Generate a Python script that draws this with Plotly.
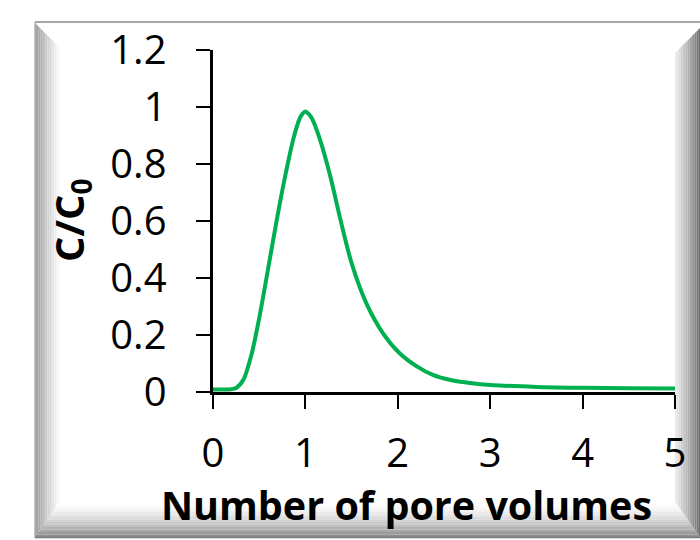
import plotly.graph_objects as go

# ---- data ----
pore_volumes = [0.0, 0.1, 0.2, 0.25, 0.33, 0.42, 0.51, 0.60, 0.69, 0.78, 0.87, 0.94, 0.97, 1.0,
                1.03, 1.07, 1.16, 1.27, 1.38, 1.50, 1.66, 1.84, 2.02, 2.21, 2.38, 2.57, 2.8,
                3.0, 3.5, 4.0, 4.5, 5.0]
c_over_c0 = [0.01, 0.01, 0.011, 0.015, 0.045, 0.137, 0.277, 0.44, 0.605, 0.757, 0.89, 0.962, 0.978, 0.985,
             0.978, 0.962, 0.885, 0.757, 0.605, 0.453, 0.312, 0.207, 0.137, 0.09, 0.061, 0.043, 0.032,
             0.026, 0.019, 0.016, 0.014, 0.013]
x_ticks = [0, 1, 2, 3, 4, 5]
y_ticks = [0, 0.2, 0.4, 0.6, 0.8, 1.0, 1.2]
y_tick_text = ["0", "0.2", "0.4", "0.6", "0.8", "1", "1.2"]

W, H = 700, 540
FONT = "Open Sans"


def px(x):
    return x / W


def py(y):
    return 1 - y / H


fig = go.Figure()
fig.add_trace(go.Scatter(x=pore_volumes, y=c_over_c0, mode="lines",
                         line=dict(color="#00B050", width=4, shape="spline", smoothing=0.8),
                         showlegend=False, hoverinfo="skip"))

shapes = []


def poly(pts, color):
    d = "M " + " L ".join(f"{px(x)},{py(y)}" for x, y in pts) + " Z"
    return dict(type="path", path=d, xref="paper", yref="paper",
                fillcolor=color, line=dict(width=0), layer="below")


def gray(v):
    v = int(round(max(0, min(255, v))))
    return f"rgb({v},{v},{v})"


N = 14
# left bevel
for i in range(N):
    xa = 35 + 25 * i / N
    xb = 35 + 25 * (i + 1) / N
    t = (i + 0.5) / N
    c = gray(140 + 115 * t ** 0.8)
    shapes.append(poly([(xa, 23 + (xa - 35)), (xb, 23 + (xb - 35)),
                        (xb, 537 - (xb - 35) * 1.4), (xa, 537 - (xa - 35) * 1.4)], c))
# right bevel
for i in range(N):
    xa = 675 + 25 * i / N
    xb = 675 + 25 * (i + 1) / N
    t = (i + 0.5) / N
    c = gray(236 - 130 * t ** 1.2)
    shapes.append(poly([(xa, 53 - (xa - 675)), (xb, 53 - (xb - 675)),
                        (xb, 502 + (xb - 675) * 1.4), (xa, 502 + (xa - 675) * 1.4)], c))
# bottom bevel
for i in range(N):
    ya = 502 + 35 * i / N
    yb = 502 + 35 * (i + 1) / N
    t = (i + 0.5) / N
    c = gray(255 - 120 * t ** 1.6)
    shapes.append(poly([(35 + (537 - ya) / 1.4, ya), (675 + (ya - 502) / 1.4, ya),
                        (675 + (yb - 502) / 1.4, yb), (35 + (537 - yb) / 1.4, yb)], c))
# outer edges
shapes.append(dict(type="line", xref="paper", yref="paper", x0=px(35), x1=px(700), y0=py(22), y1=py(22),
                   line=dict(color="#a6a6a6", width=2), layer="below"))
shapes.append(dict(type="line", xref="paper", yref="paper", x0=px(35), x1=px(35), y0=py(22), y1=py(538),
                   line=dict(color="#b0b0b0", width=1.5), layer="below"))
shapes.append(dict(type="line", xref="paper", yref="paper", x0=px(35), x1=px(700), y0=py(537.5), y1=py(537.5),
                   line=dict(color="#7a7a7a", width=1.5), layer="below"))

fig.update_layout(
    template="none",
    width=W, height=H,
    margin=dict(l=0, r=0, t=0, b=0, pad=0, autoexpand=False),
    paper_bgcolor="white", plot_bgcolor="rgba(0,0,0,0)",
    shapes=shapes,
    hovermode=False,
    font=dict(family=FONT, color="black"),
    xaxis=dict(domain=[213 / W, 675 / W], range=[0, 5], tickvals=x_ticks,
               ticks="outside", ticklen=14, tickwidth=2, tickcolor="black",
               showline=True, linecolor="black", linewidth=2.5, automargin=False,
               showgrid=False, zeroline=False, ticklabelstandoff=10,
               tickfont=dict(size=40, family=FONT, color="black")),
    yaxis=dict(domain=[1 - 392.3 / H, 1 - 50.3 / H], range=[0, 1.2], tickvals=y_ticks, ticktext=y_tick_text,
               ticks="outside", ticklen=14, tickwidth=2, tickcolor="black",
               showline=True, linecolor="black", linewidth=3.5, automargin=False,
               showgrid=False, zeroline=False, ticklabelstandoff=21,
               tickfont=dict(size=40, family=FONT, color="black")),
    annotations=[
        dict(text="<b>Number of pore volumes</b>", xref="paper", yref="paper",
             x=px(406), y=py(505), xanchor="center", yanchor="middle", showarrow=False,
             font=dict(size=39.5, family=FONT, color="black")),
        dict(text="<b>C/C<sub>0</sub></b>", xref="paper", yref="paper",
             x=px(70), y=py(220), xanchor="center", yanchor="middle", showarrow=False,
             textangle=-90, font=dict(size=40, family=FONT, color="black")),
    ],
)

fig.write_html("out.html", config={"displayModeBar": False, "staticPlot": True},
               post_script="document.body.style.margin='0px';document.body.style.overflow='hidden';")
